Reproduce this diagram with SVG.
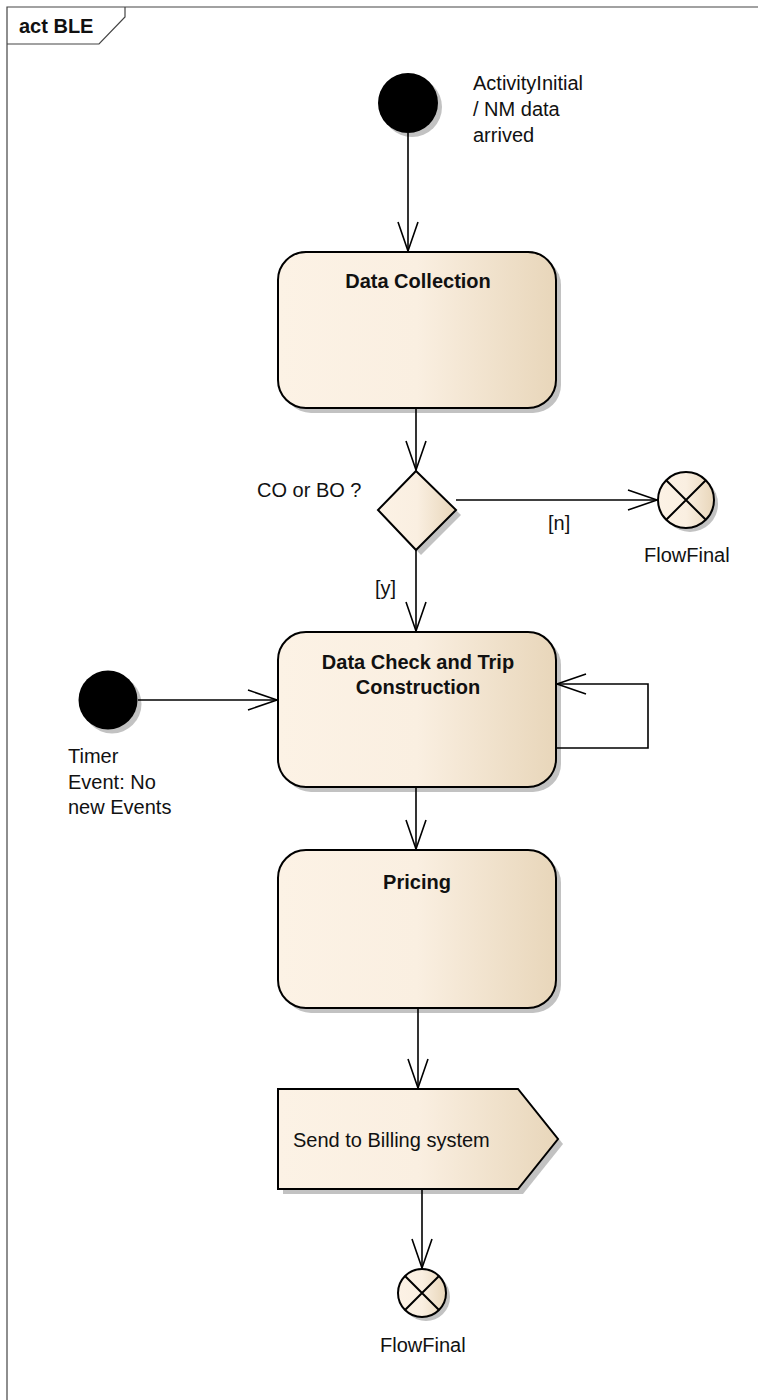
<svg xmlns="http://www.w3.org/2000/svg" width="758" height="1400" viewBox="0 0 758 1400">
<style>
  text { font-family: "Liberation Sans", Arial, sans-serif; font-size: 20px; fill: #111; }
  .b { font-weight: bold; }
  .node { fill: url(#g); stroke: #000; stroke-width: 2; }
  .sh { fill: #c2c2c2; }
  .con { fill: none; stroke: #000; stroke-width: 1.6; }
  .frame { fill: none; stroke: #444; stroke-width: 1.2; }
</style>
<defs>
  <linearGradient id="g" x1="0" y1="0" x2="1" y2="0">
    <stop offset="0" stop-color="#FCF2E5"/>
    <stop offset="0.5" stop-color="#FAEFE1"/>
    <stop offset="1" stop-color="#E8D6BA"/>
  </linearGradient>
  <marker id="arr" viewBox="0 0 31 22" markerWidth="31" markerHeight="22" refX="30" refY="11" orient="auto" markerUnits="userSpaceOnUse">
    <path d="M1,1 L30,11 L1,21" fill="none" stroke="#000" stroke-width="1.6"/>
  </marker>
</defs>
<rect width="758" height="1400" fill="#fff"/>

<g id="frame">
  <path class="frame" d="M7,1400 L7,7 L758,7"/>
  <path class="frame" d="M7,44 L99,44 L125,17 L125,7"/>
  <text class="b" x="19" y="33">act BLE</text>
</g>

<g id="initial1">
  <circle class="sh" cx="412" cy="107" r="30"/>
  <circle cx="408" cy="103" r="30" fill="#000"/>
  <text x="473" y="90">ActivityInitial</text>
  <text x="473" y="116">/ NM data</text>
  <text x="473" y="142">arrived</text>
</g>

<g id="dataCollection">
  <rect class="sh" x="283" y="257" width="278" height="156" rx="28"/>
  <rect class="node" x="278" y="252" width="278" height="156" rx="28"/>
  <text class="b" x="418" y="288" text-anchor="middle">Data Collection</text>
</g>

<g id="decision">
  <polygon class="sh" points="421,476 461,515 421,555 383,515"/>
  <polygon class="node" points="416,471 456,510 416,550 378,510"/>
  <text x="257" y="497">CO or BO ?</text>
</g>

<g id="flowFinal1">
  <circle class="sh" cx="690" cy="504" r="28"/>
  <circle class="node" cx="686" cy="500" r="28"/>
  <path d="M666.2,480.2 L705.8,519.8 M705.8,480.2 L666.2,519.8" stroke="#000" stroke-width="2"/>
  <text x="644" y="562">FlowFinal</text>
</g>

<g id="dataCheck">
  <rect class="sh" x="283" y="637" width="278" height="155" rx="28"/>
  <rect class="node" x="278" y="632" width="278" height="155" rx="28"/>
  <text class="b" x="418" y="669" text-anchor="middle">Data Check and Trip</text>
  <text class="b" x="418" y="694" text-anchor="middle">Construction</text>
</g>

<g id="timer">
  <circle class="sh" cx="112" cy="704" r="29.5"/>
  <circle cx="108" cy="700" r="29.5" fill="#000"/>
  <text x="68" y="763">Timer</text>
  <text x="68" y="789">Event: No</text>
  <text x="68" y="814">new Events</text>
</g>

<g id="pricing">
  <rect class="sh" x="283" y="855" width="278" height="158" rx="28"/>
  <rect class="node" x="278" y="850" width="278" height="158" rx="28"/>
  <text class="b" x="417" y="889" text-anchor="middle">Pricing</text>
</g>

<g id="sendBilling">
  <polygon class="sh" points="283,1094 523,1094 563,1144 523,1194 283,1194"/>
  <polygon class="node" points="278,1089 518,1089 558,1139 518,1189 278,1189"/>
  <text x="293" y="1147">Send to Billing system</text>
</g>

<g id="flowFinal2">
  <circle class="sh" cx="426" cy="1297" r="24"/>
  <circle class="node" cx="422" cy="1293" r="24"/>
  <path d="M405,1276 L439,1310 M439,1276 L405,1310" stroke="#000" stroke-width="2"/>
  <text x="380" y="1352">FlowFinal</text>
</g>

<g id="connectors">
  <path class="con" d="M408,133 L408,251" marker-end="url(#arr)"/>
  <path class="con" d="M416,408 L416,470" marker-end="url(#arr)"/>
  <path class="con" d="M456,500 L657,500" marker-end="url(#arr)"/>
  <text x="548" y="530">[n]</text>
  <path class="con" d="M416,550 L416,631" marker-end="url(#arr)"/>
  <text x="375" y="595">[y]</text>
  <path class="con" d="M138,700 L277,700" marker-end="url(#arr)"/>
  <path class="con" d="M557,748 L648,748 L648,684 L557,684" marker-end="url(#arr)"/>
  <path class="con" d="M416,787 L416,849" marker-end="url(#arr)"/>
  <path class="con" d="M418,1008 L418,1088" marker-end="url(#arr)"/>
  <path class="con" d="M422,1189 L422,1268" marker-end="url(#arr)"/>
</g>
</svg>
